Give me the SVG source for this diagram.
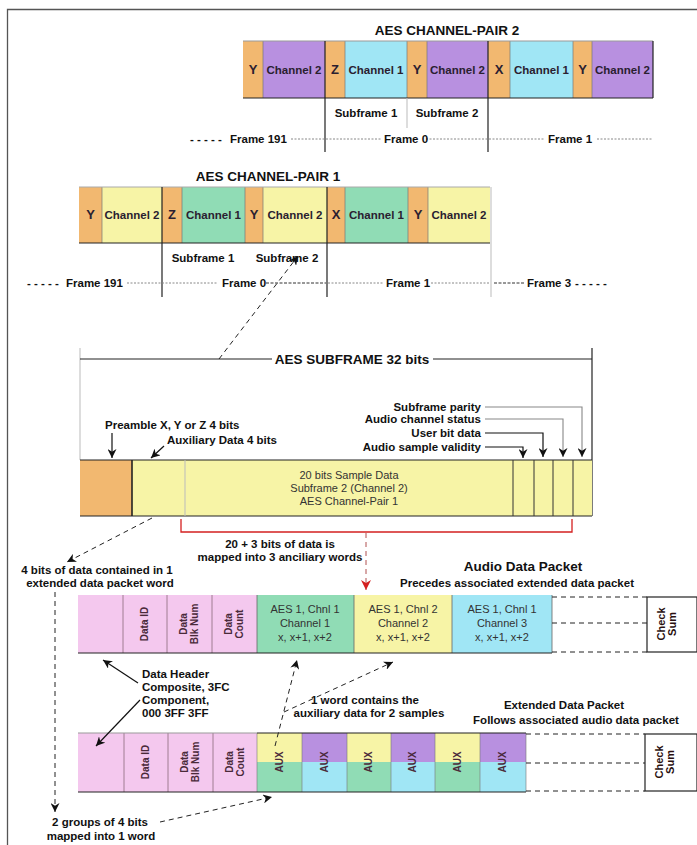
<svg xmlns="http://www.w3.org/2000/svg" width="697" height="845" viewBox="0 0 697 845">
<defs>
<style>
.t{font-family:"Liberation Sans",Arial,sans-serif;font-weight:bold;fill:#111;font-size:11.5px}
.h{font-size:13.5px}
.m{text-anchor:middle}
.e{text-anchor:end}
.bl{font-size:11.5px;fill:#2a2030}
.pre{font-size:13px;fill:#2a2030}
.c{font-family:"Liberation Sans",Arial,sans-serif;font-size:11px;fill:#333;text-anchor:middle}
.v{font-family:"Liberation Sans",Arial,sans-serif;font-weight:bold;font-size:10px;fill:#4a2a3a;text-anchor:middle}
.cs{font-family:"Liberation Sans",Arial,sans-serif;font-weight:bold;font-size:11px;fill:#2a1010;text-anchor:middle}
.or{fill:#f2b870}.pu{fill:#b890e0}.cy{fill:#a0e6f5}.ye{fill:#f7f4a6}.gr{fill:#90dcb5}.pk{fill:#f4c8ee}
.seg{stroke:#777;stroke-width:0.7}
.dk{stroke:#222;stroke-width:1.2;fill:none}
.lt{stroke:#bbb;stroke-width:1;fill:none}
.dot{stroke:#888;stroke-width:1;stroke-dasharray:2,1.5;fill:none}
.dsh{stroke:#222;stroke-width:1;stroke-dasharray:5,4;fill:none}
.arr{stroke:#111;stroke-width:1.2;fill:none}
</style>
<marker id="a" viewBox="0 0 10 10" refX="10" refY="5" markerWidth="9" markerHeight="9" markerUnits="userSpaceOnUse" orient="auto"><path d="M0,0 L10,5 L0,10 L3,5 Z" fill="#111"/></marker>
<marker id="ar" viewBox="0 0 10 10" refX="10" refY="5" markerWidth="10" markerHeight="10" markerUnits="userSpaceOnUse" orient="auto"><path d="M0,0 L10,5 L0,10 L3,5 Z" fill="#d42020"/></marker>
</defs>
<rect width="697" height="845" fill="#fff"/>
<path d="M7.5,845 V9.5 H697" stroke="#555" stroke-width="1.3" fill="none"/>

<g id="pair2">
<text class="t h m" x="447" y="35">AES CHANNEL-PAIR 2</text>
<rect class="or" x="243" y="41" width="20" height="57"/>
<rect class="pu" x="263" y="41" width="62" height="57"/>
<rect class="or" x="325" y="41" width="20" height="57"/>
<rect class="cy" x="345" y="41" width="62" height="57"/>
<rect class="or" x="407" y="41" width="20" height="57"/>
<rect class="pu" x="427" y="41" width="61" height="57"/>
<rect class="or" x="488" y="41" width="22" height="57"/>
<rect class="cy" x="510" y="41" width="63" height="57"/>
<rect class="or" x="573" y="41" width="19" height="57"/>
<rect class="pu" x="592" y="41" width="61" height="57"/>
<path class="seg" d="M263,41V98M345,41V98M407,41V98M427,41V98M510,41V98M573,41V98M592,41V98"/>
<path d="M243,41H653" stroke="#999" stroke-width="1"/>
<path class="dk" d="M243,98H653M653,41V98"/>
<path class="dk" d="M325,41V152M488,41V152"/>
<path class="lt" d="M407,98V128"/>
<text class="t pre m" x="253" y="74">Y</text>
<text class="t bl m" x="294" y="74">Channel 2</text>
<text class="t pre m" x="335" y="74">Z</text>
<text class="t bl m" x="376" y="74">Channel 1</text>
<text class="t pre m" x="417" y="74">Y</text>
<text class="t bl m" x="457.5" y="74">Channel 2</text>
<text class="t pre m" x="499" y="74">X</text>
<text class="t bl m" x="541.5" y="74">Channel 1</text>
<text class="t pre m" x="582.5" y="74">Y</text>
<text class="t bl m" x="622.5" y="74">Channel 2</text>
<text class="t m" x="366" y="117">Subframe 1</text>
<text class="t m" x="447" y="117">Subframe 2</text>
<text class="t" x="190" y="143">- - - - -</text>
<text class="t" x="230" y="143">Frame 191</text>
<path class="dot" d="M291,139H381M426,139H545M597,139H652"/>
<text class="t" x="384" y="143">Frame 0</text>
<text class="t" x="548" y="143">Frame 1</text>
</g>

<g id="pair1">
<text class="t h m" x="268" y="181">AES CHANNEL-PAIR 1</text>
<rect class="or" x="79" y="187" width="23" height="56"/>
<rect class="ye" x="102" y="187" width="60" height="56"/>
<rect class="or" x="162" y="187" width="20" height="56"/>
<rect class="gr" x="182" y="187" width="63" height="56"/>
<rect class="or" x="245" y="187" width="18" height="56"/>
<rect class="ye" x="263" y="187" width="64" height="56"/>
<rect class="or" x="327" y="187" width="18" height="56"/>
<rect class="gr" x="345" y="187" width="63" height="56"/>
<rect class="or" x="408" y="187" width="20" height="56"/>
<rect class="ye" x="428" y="187" width="62" height="56"/>
<path class="seg" d="M102,187V243M182,187V243M245,187V243M263,187V243M345,187V243M408,187V243M428,187V243"/>
<path d="M79,187H490" stroke="#aaa" stroke-width="1"/>
<path class="dk" d="M79,243H490"/>
<path class="dk" d="M162,187V297M327,187V297"/>
<path class="lt" d="M491,187V297"/>
<text class="t pre m" x="90.5" y="219">Y</text>
<text class="t bl m" x="132" y="219">Channel 2</text>
<text class="t pre m" x="172" y="219">Z</text>
<text class="t bl m" x="213.5" y="219">Channel 1</text>
<text class="t pre m" x="254" y="219">Y</text>
<text class="t bl m" x="295" y="219">Channel 2</text>
<text class="t pre m" x="336" y="219">X</text>
<text class="t bl m" x="376.5" y="219">Channel 1</text>
<text class="t pre m" x="418" y="219">Y</text>
<text class="t bl m" x="459" y="219">Channel 2</text>
<text class="t m" x="203" y="262">Subframe 1</text>
<text class="t m" x="287" y="262">Subframe 2</text>
<text class="t" x="27" y="287">- - - - -</text>
<text class="t" x="66" y="287">Frame 191</text>
<path class="dot" d="M127,283H218M328,283H384M431,283H490"/>
<path d="M266,283H326M494,283H524" stroke="#333" stroke-width="1" stroke-dasharray="3,1.5"/>
<text class="t" x="222" y="287">Frame 0</text>
<text class="t" x="386" y="287">Frame 1</text>
<text class="t" x="527" y="287">Frame 3</text>
<text class="t" x="575" y="287">- - - - -</text>
</g>

<g id="subframe">
<path class="lt" d="M80,348V460"/>
<path class="dk" d="M592,348V516"/>
<path class="dk" d="M80,359H272M433,359H592"/>
<text class="t h m" x="352" y="364">AES SUBFRAME 32 bits</text>
<text class="t e" x="481" y="411">Subframe parity</text>
<text class="t e" x="481" y="423">Audio channel status</text>
<text class="t e" x="481" y="437">User bit data</text>
<text class="t e" x="481" y="451">Audio sample validity</text>
<text class="t" x="105" y="429">Preamble X, Y or Z  4 bits</text>
<text class="t" x="167" y="444">Auxiliary Data 4 bits</text>
<rect class="or" x="80" y="460" width="52" height="56"/>
<rect class="ye" x="132" y="460" width="460" height="56"/>
<path class="dk" d="M80,460H592M80,516H592"/>
<path d="M132,460V516" stroke="#222" stroke-width="1.6"/>
<path class="lt" d="M185,460V516"/>
<path d="M513,460V516M534,460V516M553,460V516M573,460V516" stroke="#333" stroke-width="1"/>
<text class="c" x="349" y="479" font-size="10.5" fill="#2a2a20">20 bits Sample Data</text>
<text class="c" x="349" y="492" font-size="10.5" fill="#2a2a20">Subframe 2 (Channel 2)</text>
<text class="c" x="349" y="505" font-size="10.5" fill="#2a2a20">AES Channel-Pair 1</text>
</g>

<g id="audio-packet">
<text class="t h m" x="523" y="571" font-size="13px">Audio Data Packet</text>
<text class="t m" x="517" y="587">Precedes associated extended data packet</text>
<rect class="pk" x="78" y="595" width="179" height="58"/>
<rect class="gr" x="257" y="595" width="97" height="58"/>
<rect class="ye" x="354" y="595" width="98" height="58"/>
<rect class="cy" x="452" y="595" width="100" height="58"/>
<path d="M123,595V653M167,595V653M212,595V653" stroke="#8a6a7a" stroke-width="0.8"/>
<path d="M257,595V653M354,595V653M452,595V653M552,595V653" stroke="#666" stroke-width="0.8"/>
<path class="dk" d="M78,653H552"/>
<text class="v" transform="translate(148,624) rotate(-90)">Data ID</text>
<text class="v" transform="translate(189,624) rotate(-90)"><tspan x="0" y="-2">Data</tspan><tspan x="0" y="9">Blk Num</tspan></text>
<text class="v" transform="translate(234,624) rotate(-90)"><tspan x="0" y="-2">Data</tspan><tspan x="0" y="9">Count</tspan></text>
<text class="c" x="305" y="613">AES 1, Chnl 1</text>
<text class="c" x="305" y="627">Channel 1</text>
<text class="c" x="305" y="641">x, x+1, x+2</text>
<text class="c" x="403" y="613">AES 1, Chnl 2</text>
<text class="c" x="403" y="627">Channel 2</text>
<text class="c" x="403" y="641">x, x+1, x+2</text>
<text class="c" x="502" y="613">AES 1, Chnl 1</text>
<text class="c" x="502" y="627">Channel 3</text>
<text class="c" x="502" y="641">x, x+1, x+2</text>
<path class="dsh" d="M552,597H647M552,623H647M552,652H647"/>
<rect x="647" y="597" width="50" height="55" fill="#fff" stroke="#222" stroke-width="1.2"/>
<text class="cs" transform="translate(667,624) rotate(-90)"><tspan x="0" y="-2">Check</tspan><tspan x="0" y="9">Sum</tspan></text>
</g>

<g id="ext-packet">
<text class="t m" x="564" y="709" font-size="12.5px">Extended Data Packet</text>
<text class="t m" x="576" y="724">Follows associated audio data packet</text>
<rect class="pk" x="78" y="733" width="179" height="59"/>
<rect class="ye" x="257" y="733" width="45" height="29"/><rect class="gr" x="257" y="762" width="45" height="30"/>
<rect class="pu" x="302" y="733" width="45" height="29"/><rect class="cy" x="302" y="762" width="45" height="30"/>
<rect class="ye" x="347" y="733" width="44" height="29"/><rect class="gr" x="347" y="762" width="44" height="30"/>
<rect class="pu" x="391" y="733" width="44" height="29"/><rect class="cy" x="391" y="762" width="44" height="30"/>
<rect class="ye" x="435" y="733" width="45" height="29"/><rect class="gr" x="435" y="762" width="45" height="30"/>
<rect class="pu" x="480" y="733" width="46" height="29"/><rect class="cy" x="480" y="762" width="46" height="30"/>
<path d="M124,733V792M168,733V792M213,733V792" stroke="#8a6a7a" stroke-width="0.8"/>
<path d="M257,733V792M302,733V792M347,733V792M391,733V792M435,733V792M480,733V792M526,733V792" stroke="#777" stroke-width="0.6"/>
<path d="M78,733H257" stroke="#999" stroke-width="1"/>
<path class="dk" d="M257,733H526M78,792H526"/>
<text class="v" transform="translate(149,762) rotate(-90)">Data ID</text>
<text class="v" transform="translate(190,762) rotate(-90)"><tspan x="0" y="-2">Data</tspan><tspan x="0" y="9">Blk Num</tspan></text>
<text class="v" transform="translate(235,762) rotate(-90)"><tspan x="0" y="-2">Data</tspan><tspan x="0" y="9">Count</tspan></text>
<text class="v" transform="translate(283,762) rotate(-90)">AUX</text>
<text class="v" transform="translate(328,762) rotate(-90)">AUX</text>
<text class="v" transform="translate(372,762) rotate(-90)">AUX</text>
<text class="v" transform="translate(416,762) rotate(-90)">AUX</text>
<text class="v" transform="translate(461,762) rotate(-90)">AUX</text>
<text class="v" transform="translate(506,762) rotate(-90)">AUX</text>
<path class="dsh" d="M526,734H645M526,763H645M526,791H645"/>
<rect x="645" y="734" width="52" height="57" fill="#fff" stroke="#222" stroke-width="1.2"/>
<text class="cs" transform="translate(665,762) rotate(-90)"><tspan x="0" y="-2">Check</tspan><tspan x="0" y="9">Sum</tspan></text>
</g>

<g id="labels">
<text class="t m" x="280" y="548">20 + 3 bits of data is</text>
<text class="t m" x="280" y="561">mapped into 3 anciliary words</text>
<text class="t m" x="97" y="574">4 bits of data contained in 1</text>
<text class="t m" x="100" y="587">extended data packet word</text>
<text class="t" x="142" y="678">Data Header</text>
<text class="t" x="142" y="691">Composite, 3FC</text>
<text class="t" x="142" y="704">Component,</text>
<text class="t" x="142" y="717">000 3FF 3FF</text>
<text class="t m" x="365" y="704">1 word contains the</text>
<text class="t m" x="369" y="717">auxiliary data for 2 samples</text>
<text class="t m" x="100" y="826">2 groups of 4 bits</text>
<text class="t m" x="101" y="840">mapped into 1 word</text>
</g>

<g id="connectors">
<path class="dsh" d="M219,359L298,256" marker-end="url(#a)"/>
<path class="arr" d="M112,433V458" marker-end="url(#a)"/>
<path class="arr" d="M164,446L151,458" marker-end="url(#a)"/>
<path d="M485,407H582V457" stroke="#888" stroke-width="1.1" fill="none" marker-end="url(#a)"/>
<path d="M485,419H563V457" stroke="#888" stroke-width="1.1" fill="none" marker-end="url(#a)"/>
<path class="arr" d="M485,433H543V457" marker-end="url(#a)"/>
<path class="arr" d="M485,447H523V458" marker-end="url(#a)"/>
<path d="M181,519V532H572V519" stroke="#d42020" stroke-width="1.3" fill="none"/>
<path d="M366,533V590" stroke="#b05050" stroke-width="1" stroke-dasharray="5,4" fill="none" marker-end="url(#ar)"/>
<path class="dsh" d="M152,518L67,562" marker-end="url(#a)"/>
<path class="dsh" d="M55,592V812" marker-end="url(#a)"/>
<path class="dsh" d="M160,822L272,797" marker-end="url(#a)"/>
<path class="dsh" d="M275,746L297,660" marker-end="url(#a)"/>
<path class="dsh" d="M284,712L393,662" marker-end="url(#a)"/>
<path class="arr" d="M138,683L103,660" marker-end="url(#a)"/>
<path class="arr" d="M140,700L96,746" marker-end="url(#a)"/>
</g>
</svg>
